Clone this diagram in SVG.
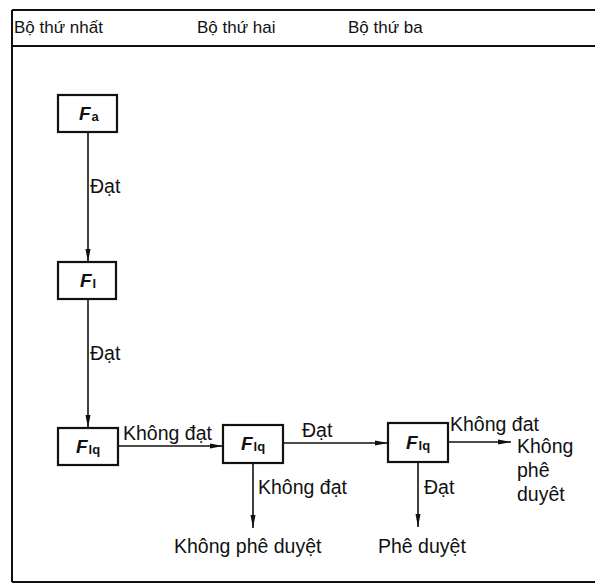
<svg xmlns="http://www.w3.org/2000/svg" width="595" height="584" viewBox="0 0 595 584">
<style>
.frame{stroke:#111;stroke-width:2;fill:none}
.box{stroke:#111;stroke-width:2.2;fill:#fff}
.conn{stroke:#111;stroke-width:1.6;fill:none}
.hdr{font-family:"Liberation Sans",Arial,sans-serif;font-size:17px;fill:#111}
.lbl{font-family:"Liberation Sans",Arial,sans-serif;font-size:19.5px;fill:#111}
.F{font-family:"Liberation Sans",Arial,sans-serif;font-size:19px;font-style:italic;font-weight:bold;fill:#111}
.sub{font-family:"Liberation Sans",Arial,sans-serif;font-size:13px;font-weight:bold;fill:#111}
</style>
<defs>
<marker id="arr" markerWidth="14" markerHeight="8" refX="13" refY="4" orient="auto" markerUnits="userSpaceOnUse">
<path d="M0,1.5 L13,4 L0,6.5 Z" fill="#111"/>
</marker>
</defs>
<rect width="595" height="584" fill="#fff"/>
<g id="frame">
<line class="frame" x1="12" y1="10" x2="595" y2="10"/>
<line class="frame" x1="12" y1="46" x2="595" y2="46"/>
<line class="frame" x1="12" y1="582" x2="595" y2="582"/>
<line class="frame" x1="12" y1="10" x2="12" y2="582"/>
<text class="hdr" x="14" y="33">Bộ thứ nhất</text>
<text class="hdr" x="197" y="33">Bộ thứ hai</text>
<text class="hdr" x="348" y="33">Bộ thứ ba</text>
</g>
<g id="connectors">
<line class="conn" x1="88" y1="132" x2="88" y2="262" marker-end="url(#arr)"/>
<line class="conn" x1="88" y1="299" x2="88" y2="428" marker-end="url(#arr)"/>
<line class="conn" x1="118" y1="446" x2="223" y2="446" marker-end="url(#arr)"/>
<line class="conn" x1="283" y1="443" x2="388" y2="443" marker-end="url(#arr)"/>
<line class="conn" x1="448" y1="442" x2="511" y2="442" marker-end="url(#arr)"/>
<line class="conn" x1="253" y1="463" x2="253" y2="528" marker-end="url(#arr)"/>
<line class="conn" x1="418" y1="462" x2="418" y2="527" marker-end="url(#arr)"/>
<text class="lbl" x="90" y="193">Đạt</text>
<text class="lbl" x="90" y="360">Đạt</text>
<text class="lbl" x="123" y="440">Không đạt</text>
<text class="lbl" x="302" y="437">Đạt</text>
<text class="lbl" x="450" y="431">Không đat</text>
<text class="lbl" x="258" y="494">Không đạt</text>
<text class="lbl" x="424" y="494">Đạt</text>
</g>
<g id="Fa">
<rect class="box" x="58" y="95" width="59" height="37"/>
<text x="79" y="120"><tspan class="F">F</tspan><tspan class="sub" dx="1" dy="1">a</tspan></text>
</g>
<g id="Fl">
<rect class="box" x="58" y="262" width="58" height="37"/>
<text x="80" y="287"><tspan class="F">F</tspan><tspan class="sub" dx="1" dy="1">l</tspan></text>
</g>
<g id="Flq1">
<rect class="box" x="58" y="428" width="60" height="37"/>
<text x="76" y="453"><tspan class="F">F</tspan><tspan class="sub" dx="1" dy="1">lq</tspan></text>
</g>
<g id="Flq2">
<rect class="box" x="223" y="425" width="60" height="38"/>
<text x="241" y="450"><tspan class="F">F</tspan><tspan class="sub" dx="1" dy="1">lq</tspan></text>
</g>
<g id="Flq3">
<rect class="box" x="388" y="423" width="60" height="39"/>
<text x="406" y="449"><tspan class="F">F</tspan><tspan class="sub" dx="1" dy="1">lq</tspan></text>
</g>
<g id="out-reject1">
<text class="lbl" x="174" y="553">Không phê duyệt</text>
</g>
<g id="out-approve">
<text class="lbl" x="378" y="553">Phê duyệt</text>
</g>
<g id="out-reject2">
<text class="lbl" x="517" y="453">Không</text>
<text class="lbl" x="517" y="477">phê</text>
<text class="lbl" x="517" y="501">duyêt</text>
</g>
</svg>
